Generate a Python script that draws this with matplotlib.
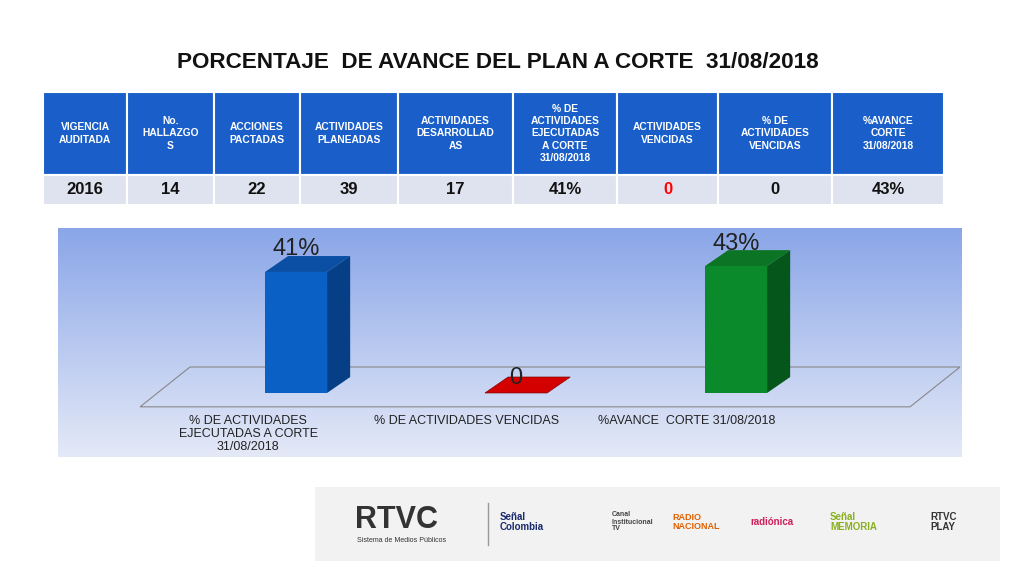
import matplotlib
matplotlib.use("Agg")
import matplotlib.pyplot as plt
from matplotlib.patches import Polygon, Rectangle
from matplotlib.colors import LinearSegmentedColormap
import numpy as np

plt.rcParams["font.family"] = "Liberation Sans"

title = "PORCENTAJE  DE AVANCE DEL PLAN A CORTE  31/08/2018"
headers = ["VIGENCIA\nAUDITADA", "No.\nHALLAZGO\nS", "ACCIONES\nPACTADAS", "ACTIVIDADES\nPLANEADAS",
           "ACTIVIDADES\nDESARROLLAD\nAS", "% DE\nACTIVIDADES\nEJECUTADAS\nA CORTE\n31/08/2018",
           "ACTIVIDADES\nVENCIDAS", "% DE\nACTIVIDADES\nVENCIDAS", "%AVANCE\nCORTE\n31/08/2018"]
row = ["2016", "14", "22", "39", "17", "41%", "0", "0", "43%"]
categories = ["% DE ACTIVIDADES\nEJECUTADAS A CORTE\n31/08/2018", "% DE ACTIVIDADES VENCIDAS", "%AVANCE  CORTE 31/08/2018"]
values = [41, 0, 43]
value_labels = ["41%", "0", "43%"]
colors = [("#0a60c4", "#073f86", "#0a4fa3"), ("#c00000", "#8a0000", "#d40000"), ("#0a8a2a", "#05561a", "#0b7525")]

fig = plt.figure(figsize=(10.24, 5.76), dpi=100)
bg = fig.add_axes([0, 0, 1, 1]); bg.set_xlim(0, 1024); bg.set_ylim(576, 0); bg.axis("off")

bg.text(498, 62, title, ha="center", va="center", fontsize=16.2, fontweight="bold", color="#111111")

cols = [43, 127, 214, 300, 398, 513, 617, 718, 832, 944]
for i in range(9):
    x0, x1 = cols[i], cols[i+1]
    bg.add_patch(Rectangle((x0, 92), x1-x0, 83, facecolor="#1a5fc9", edgecolor="white", lw=1.5))
    bg.add_patch(Rectangle((x0, 175), x1-x0, 30, facecolor="#dfe3ef", edgecolor="white", lw=1.5))
    bg.text((x0+x1)/2, 133.5, headers[i], ha="center", va="center", fontsize=7.4, fontweight="bold",
            color="white", linespacing=1.3)
    bg.text((x0+x1)/2, 190, row[i], ha="center", va="center", fontsize=12, fontweight="bold",
            color="red" if i == 6 else "#111111")

bg.add_patch(Rectangle((315, 487), 685, 74, facecolor="#f2f2f2", edgecolor="none"))
bg.text(355, 520, "RTVC", fontsize=22, color="#333333", va="center", fontweight="bold")
bg.text(357, 541, "Sistema de Medios Públicos", fontsize=5, color="#333333", va="center")
bg.plot([488, 488], [503, 545], color="#999999", lw=1)
for x, t, c, fs in [(500, "Señal\nColombia", "#1a2a6c", 7), (612, "Canal\nInstitucional\nTV", "#444444", 5),
                    (672, "RADIO\nNACIONAL", "#e06000", 6.5), (750, "radiónica", "#d0205a", 7),
                    (830, "Señal\nMEMORIA", "#8ab020", 7), (930, "RTVC\nPLAY", "#333333", 7)]:
    bg.text(x, 522, t, fontsize=fs, color=c, va="center", fontweight="bold", linespacing=1.0)

ax = fig.add_axes([58/1024, 1-457/576, 904/1024, 229/576])
grad = np.linspace(0, 1, 256).reshape(-1, 1)
cm = LinearSegmentedColormap.from_list("g", ["#8aa6e8", "#e4e9f7"])
xl = (-1.082, -1.082 + 904/220); yl = (-21.7, 55.9)
ax.imshow(grad, cmap=cm, aspect="auto", extent=[xl[0], xl[1], yl[0], yl[1]], origin="upper", zorder=0)
ax.set_xlim(*xl); ax.set_ylim(*yl); ax.axis("off")

hw, dx, dy = 0.141, 0.105, 5.4
floor = [(-0.709, -4.7), (2.791, -4.7), (3.018, 8.8), (-0.482, 8.8)]
ax.add_patch(Polygon(floor, closed=True, facecolor="none", edgecolor="#888888", lw=0.8, zorder=1))
for i, v in enumerate(values):
    fc, sc, tc = colors[i]
    l, r = i - hw, i + hw
    if v > 0:
        ax.add_patch(Polygon([(r, 0), (r+dx, dy), (r+dx, v+dy), (r, v)], facecolor=sc, zorder=2))
        ax.add_patch(Polygon([(l, v), (r, v), (r+dx, v+dy), (l+dx, v+dy)], facecolor=tc, zorder=2))
        ax.add_patch(Rectangle((l, 0), 2*hw, v, facecolor=fc, zorder=3))
        ax.text(i, v + dy - 1.5, value_labels[i], ha="center", va="bottom", fontsize=17, color="#222222", zorder=4)
    else:
        ax.add_patch(Polygon([(l, 0), (r, 0), (r+dx, dy), (l+dx, dy)], facecolor=tc, edgecolor="#800000", lw=0.5, zorder=2))
        ax.text(i, 5, value_labels[i], ha="center", va="center", fontsize=17, color="#222222", zorder=4)
label_x = [-0.218, 0.773, 1.777]
for i, c in enumerate(categories):
    ax.text(label_x[i], -7.5, c, ha="center", va="top", fontsize=9, color="#222222", linespacing=1.1)

fig.savefig("out.png", dpi=100)
